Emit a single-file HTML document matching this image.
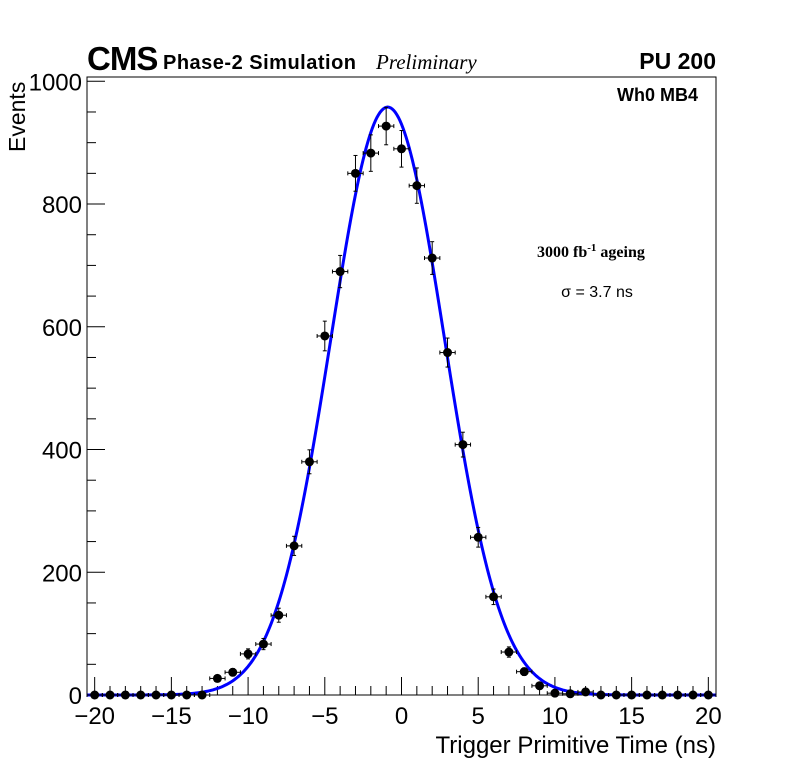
<!DOCTYPE html>
<html><head><meta charset="utf-8"><style>
body{margin:0;background:#fff;}
svg{display:block;font-family:"Liberation Sans",sans-serif;}
</style></head><body>
<svg id="chart" width="796" height="772">
<rect x="0" y="0" width="796" height="772" fill="#fff"/>
<g id="axes"></g>
<g id="curve"></g>
<g id="points"></g>
<text x="87" y="70" font-size="33" font-weight="bold" letter-spacing="-1">CMS</text>
<text x="163" y="69" font-size="20" font-weight="bold" textLength="193">Phase-2 Simulation</text>
<text x="376" y="69" font-size="21" font-style="italic" font-family="Liberation Serif,serif">Preliminary</text>
<text x="716" y="69" font-size="23" font-weight="bold" text-anchor="end">PU 200</text>
<text x="698" y="101" font-size="18" font-weight="bold" text-anchor="end">Wh0 MB4</text>
<text x="537" y="257" font-size="16" font-weight="bold" font-family="Liberation Serif,serif">3000 fb<tspan dy="-6" font-size="11">-1</tspan><tspan dy="6"> ageing</tspan></text>
<text x="597" y="297" font-size="16" text-anchor="middle">σ = 3.7 ns</text>
<text x="716" y="753" font-size="24" text-anchor="end">Trigger Primitive Time (ns)</text>
<text transform="translate(25,152) rotate(-90)" font-size="23">Events</text>
</svg>
<script>
const xCenters=[-20,-19,-18,-17,-16,-15,-14,-13,-12,-11,-10,-9,-8,-7,-6,-5,-4,-3,-2,-1,0,1,2,3,4,5,6,7,8,9,10,11,12,13,14,15,16,17,18,19,20];
const counts=[0,0,0,0,0,0,0,0,27,37,67,83,130,243,380,585,690,850,883,927,890,830,712,558,408,257,160,70,38,15,3,2,5,0,0,0,0,0,0,0,0];
const fitParams=[958,-0.9,3.7];
const xTicks=[-20,-15,-10,-5,0,5,10,15,20];
const yTicks=[0,200,400,600,800,1000];
const NS="http://www.w3.org/2000/svg";
const L=87,R=716,T=77,B=695,XMIN=-20.5,XMAX=20.5,YMIN=0,YMAX=1007;
const sx=v=>L+(v-XMIN)/(XMAX-XMIN)*(R-L);
const sy=v=>B-(v-YMIN)/(YMAX-YMIN)*(B-T);
function mk(tag,attrs,parent){const e=document.createElementNS(NS,tag);for(const k in attrs)e.setAttribute(k,attrs[k]);parent.appendChild(e);return e;}
const ax=document.getElementById('axes');
const frame=mk('rect',{x:L,y:T,width:R-L,height:B-T,fill:'none',stroke:'#000','stroke-width':1},ax);


for(let v=-20;v<=20;v++){const major=v%5===0;const t=mk('line',{x1:sx(v),x2:sx(v),y1:B,y2:B-(major?18:9),stroke:'#000'},ax);

}
xTicks.forEach(v=>{const t=mk('text',{x:sx(v),y:B+29,'font-size':24,'text-anchor':'middle'},ax);t.textContent=(v<0?'\u2212'+(-v):v);

});
for(let v=0;v<=1000;v+=50){const major=v%200===0;const t=mk('line',{x1:L,x2:L+(major?18:9),y1:sy(v),y2:sy(v),stroke:'#000'},ax);

}
yTicks.forEach(v=>{const t=mk('text',{x:L-5,y:sy(v)+9,'font-size':24,'text-anchor':'end'},ax);t.textContent=v;

});
const cg=document.getElementById('curve');let d='';
for(let x=XMIN;x<=XMAX+1e-9;x+=0.1){const y=fitParams[0]*Math.exp(-0.5*Math.pow((x-fitParams[1])/fitParams[2],2));d+=(d?'L':'M')+sx(x).toFixed(2)+','+sy(y).toFixed(2);}
const path=mk('path',{d:d,fill:'none',stroke:'#0000ff','stroke-width':3},cg);


const pg=document.getElementById('points');
xCenters.forEach((x,i)=>{const c=counts[i];const g=mk('g',{},pg);


const px=sx(x),py=sy(c);
mk('line',{x1:sx(x-0.5),x2:sx(x+0.5),y1:py,y2:py,stroke:'#000'},g);
if(c>0){const e=Math.sqrt(c);mk('line',{x1:px,x2:px,y1:sy(c+e),y2:sy(c-e),stroke:'#000'},g);
mk('line',{x1:px-2,x2:px+2,y1:sy(c+e),y2:sy(c+e),stroke:'#000'},g);
mk('line',{x1:px-2,x2:px+2,y1:sy(c-e),y2:sy(c-e),stroke:'#000'},g);}
mk('line',{x1:sx(x-0.5),x2:sx(x-0.5),y1:py-2,y2:py+2,stroke:'#000'},g);
mk('line',{x1:sx(x+0.5),x2:sx(x+0.5),y1:py-2,y2:py+2,stroke:'#000'},g);
mk('circle',{cx:px,cy:py,r:4.5,fill:'#000'},g);});
</script>
</body></html>
